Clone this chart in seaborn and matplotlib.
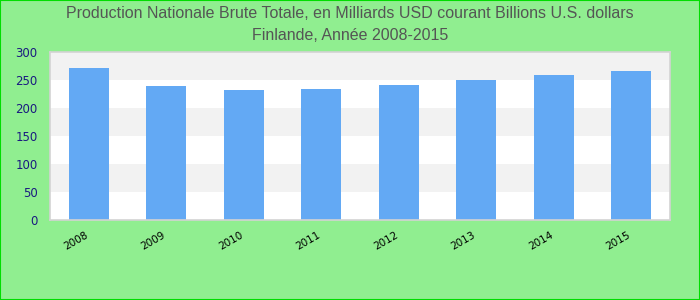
import matplotlib
matplotlib.use("Agg")
import matplotlib.pyplot as plt
import matplotlib.transforms as mtransforms
import seaborn as sns
import pandas as pd

years = ["2008", "2009", "2010", "2011", "2012", "2013", "2014", "2015"]
values = [271, 239, 232, 234, 241, 250, 259, 266]
yticks = [0, 50, 100, 150, 200, 250, 300]

df = pd.DataFrame({"year": years, "value": values})

sns.set_style("white")
plt.rcParams['font.family'] = ['Liberation Sans', 'DejaVu Sans']

fig = plt.figure(figsize=(7, 3), dpi=100, facecolor="#90ee90")
ax = fig.add_axes([50/700, 1-220/300, 620/700, 168/300])
ax.set_facecolor("white")

for i in range(6):
    if i % 2 == 1:
        ax.axhspan(yticks[i], yticks[i+1], color="#f2f2f2", zorder=0, lw=0)

sns.barplot(data=df, x="year", y="value", color="#63a9f4", saturation=1,
            width=0.52, ax=ax, zorder=2, edgecolor="none", linewidth=0)
ax.set_xlim(-0.5, 7.5)
ax.set_ylim(0, 300)
ax.set_yticks(yticks)
ax.set_yticklabels([str(t) for t in yticks], family=['DejaVu Sans'], fontsize=8.5, color="#1a1a80")
ax.set_xticks(range(len(years)))
ax.tick_params(axis="x", length=0, pad=7)
ax.tick_params(axis="y", length=0, pad=9)
ax.set_xticklabels(years, rotation=30, fontsize=7.5, color="black", family=['DejaVu Sans'],
                   ha="right", rotation_mode="anchor", va="top")
offset = mtransforms.ScaledTranslation(-4/100, 0, fig.dpi_scale_trans)
for lab in ax.get_xticklabels():
    lab.set_transform(lab.get_transform() + offset)
ax.set_xlabel("")
ax.set_ylabel("")
for s in ax.spines.values():
    s.set_color("#d3d3d3")
    s.set_linewidth(1.2)

fig.text(0.5, 1-14/300, "Production Nationale Brute Totale, en Milliards USD courant Billions U.S. dollars",
         ha="center", va="center", fontsize=11.5, color="#555555")
fig.text(0.5, 1-35/300, "Finlande, Année 2008-2015",
         ha="center", va="center", fontsize=11.5, color="#555555")

border = plt.Rectangle((0, 0), 1, 1, transform=fig.transFigure, fill=False,
                       edgecolor="#00dd00", linewidth=1.5)
fig.patches.append(border)

fig.savefig("out.png", dpi=100, facecolor=fig.get_facecolor())
